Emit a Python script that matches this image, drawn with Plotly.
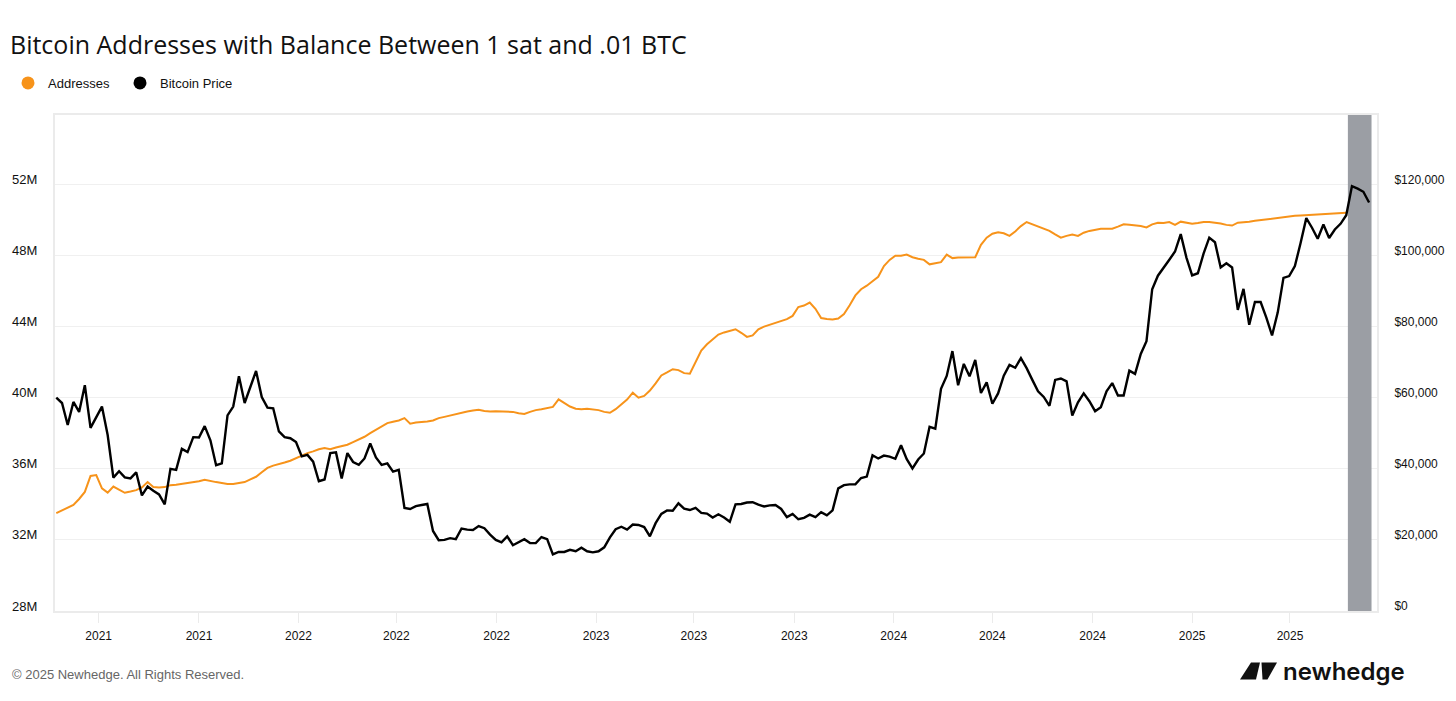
import pandas as pd
import plotly.graph_objects as go

# weekly samples (Wednesdays)
start_date = "2021-03-10"

# Bitcoin price, thousands of USD
price_k = [
    60.0, 58.5, 52.3, 58.8, 56.0, 63.5, 51.5, 54.5, 57.5, 49.5,
    37.5, 39.3, 37.6, 37.3, 39.0, 32.5, 35.0, 33.8, 32.8, 30.0,
    40.0, 39.7, 45.6, 44.7, 48.9, 48.8, 52.0, 48.0, 41.0, 41.5,
    55.0, 57.5, 66.0, 58.5, 63.0, 67.5, 60.2, 57.2, 57.0, 50.5,
    48.9, 48.6, 47.5, 43.5, 43.9, 42.0, 36.5, 37.0, 44.4, 44.6,
    37.3, 44.4, 41.9, 41.1, 42.9, 47.1, 43.2, 41.1, 41.5, 39.2,
    39.7, 29.0, 28.7, 29.5, 29.8, 30.1, 22.5, 19.9, 20.0, 20.5,
    20.2, 23.2, 22.9, 22.8, 23.9, 23.3, 21.5, 20.0, 19.3, 21.0,
    18.5, 19.4, 20.2, 19.1, 19.1, 20.8, 20.2, 15.9, 16.6, 16.6,
    17.2, 16.8, 17.8, 16.8, 16.5, 16.8, 17.9, 20.7, 23.0, 23.7,
    22.9, 24.3, 24.2, 23.6, 21.0, 24.7, 27.3, 28.3, 28.2, 30.3,
    28.8, 28.4, 29.0, 27.6, 27.4, 26.3, 27.2, 26.3, 25.1, 30.0,
    30.1, 30.5, 30.6, 29.9, 29.4, 29.7, 29.8, 28.7, 26.4, 27.3,
    25.8, 26.2, 27.1, 26.4, 27.8, 26.9, 28.3, 34.5, 35.4, 35.6,
    35.6, 37.4, 37.8, 43.8, 42.9, 43.7, 43.4, 42.8, 46.6, 42.7,
    40.1, 42.6, 44.3, 51.8, 51.3, 62.5, 66.1, 73.1, 63.5, 69.5,
    66.0, 70.6, 61.3, 64.3, 58.3, 61.2, 66.2, 69.2, 68.4, 71.1,
    68.3, 65.0, 61.8, 60.2, 57.7, 65.0, 65.4, 64.6, 55.0, 58.7,
    61.2, 59.0, 56.2, 57.3, 61.8, 64.1, 60.6, 60.6, 67.6, 66.7,
    72.3, 75.9, 90.5, 94.3, 96.4, 98.8, 101.1, 106.0, 99.4, 94.4,
    95.0, 100.5, 105.0, 103.7, 96.6, 97.8, 96.6, 84.7, 90.6, 80.5,
    86.9, 86.9, 82.5, 77.5, 84.0, 93.7, 94.2, 97.0, 103.5, 110.5,
    107.8, 104.7, 108.7, 104.9, 107.3, 108.9, 111.3, 119.5, 118.8, 117.9,
    114.9,
]

# addresses with 1 sat - 0.01 BTC, millions
addresses_m = [
    33.50, 33.65, 33.80, 33.97, 34.30, 34.70, 35.60, 35.65, 34.90, 34.66,
    35.00, 34.80, 34.65, 34.72, 34.80, 34.95, 35.25, 34.98, 34.95, 34.97,
    35.08, 35.10, 35.15, 35.20, 35.23, 35.30, 35.38, 35.30, 35.25, 35.20,
    35.15, 35.15, 35.20, 35.25, 35.40, 35.55, 35.80, 36.05, 36.18, 36.25,
    36.35, 36.45, 36.60, 36.75, 36.88, 36.98, 37.10, 37.17, 37.10, 37.20,
    37.28, 37.35, 37.50, 37.65, 37.80, 38.00, 38.20, 38.38, 38.57, 38.65,
    38.72, 38.85, 38.54, 38.60, 38.62, 38.66, 38.72, 38.85, 38.92, 39.00,
    39.10, 39.15, 39.22, 39.28, 39.32, 39.25, 39.22, 39.24, 39.22, 39.23,
    39.20, 39.12, 39.08, 39.20, 39.30, 39.35, 39.40, 39.48, 39.90, 39.70,
    39.50, 39.38, 39.35, 39.38, 39.36, 39.30, 39.20, 39.15, 39.35, 39.60,
    39.89, 40.28, 40.00, 40.10, 40.40, 40.80, 41.25, 41.42, 41.60, 41.55,
    41.38, 41.35, 42.00, 42.65, 43.00, 43.28, 43.55, 43.67, 43.74, 43.85,
    43.65, 43.42, 43.50, 43.85, 44.00, 44.10, 44.20, 44.30, 44.42, 44.60,
    45.10, 45.18, 45.35, 45.00, 44.48, 44.42, 44.40, 44.45, 44.70, 45.20,
    45.75, 46.10, 46.30, 46.55, 46.80, 47.40, 47.75, 47.98, 47.98, 48.05,
    47.90, 47.81, 47.75, 47.50, 47.55, 47.62, 48.05, 47.85, 47.88, 47.90,
    47.90, 47.90, 48.60, 49.00, 49.22, 49.30, 49.25, 49.10, 49.35, 49.65,
    49.88, 49.75, 49.60, 49.50, 49.38, 49.18, 49.00, 49.10, 49.18, 49.10,
    49.28, 49.38, 49.45, 49.50, 49.50, 49.50, 49.62, 49.75, 49.72, 49.69,
    49.65, 49.58, 49.75, 49.84, 49.82, 49.88, 49.72, 49.90, 49.85, 49.78,
    49.82, 49.88, 49.88, 49.85, 49.80, 49.72, 49.68, 49.84, 49.86, 49.90,
    49.95, 49.99, 50.03, 50.07, 50.12, 50.18, 50.21, 50.23, 50.25, 50.27,
    50.29, 50.30, 50.32, 50.34, 50.35, 50.37, 50.40,
]

# x axis ticks every four months, labelled by year
tick_dates = ["2021-05-01", "2021-09-01", "2022-01-01", "2022-05-01", "2022-09-01",
              "2023-01-01", "2023-05-01", "2023-09-01", "2024-01-01", "2024-05-01",
              "2024-09-01", "2025-01-01", "2025-05-01"]
tick_years = [d[:4] for d in tick_dates]

left_ticks = [28, 32, 36, 40, 44, 48, 52]
left_labels = ["28M", "32M", "36M", "40M", "44M", "48M", "52M"]
right_ticks = [0, 20, 40, 60, 80, 100, 120]
right_labels = ["$0", "$20,000", "$40,000", "$60,000", "$80,000", "$100,000", "$120,000"]

# shaded recent period
shade_start = "2025-07-11"
shade_end = "2025-08-09"

left_range = [28, 55.9]
right_range = [0, 139.5]
x_range = ["2021-03-08 10:00", "2025-08-15 17:00"]

ORANGE = "#F7931A"
GRID = "#f0f0f0"
AXIS_LINE = "#ebebeb"

price_dates = pd.date_range(start=start_date, periods=len(price_k), freq="7D")
addr_dates = price_dates[:len(addresses_m)]

# the page body adds an 8px offset, so layout is set in (screen - 8) pixels
OFF = 8
W, H = 1456 - OFF, 701 - OFF
L, R, T, B = 55, 1377, 115, 611  # plot area on screen


def px_x(p):
    return (p - L) / (R - L)


def px_y(p):
    return (B - p) / (B - T)


fig = go.Figure()

# shaded band as a filled area under the lines
fig.add_trace(go.Scatter(x=[shade_start, shade_start, shade_end, shade_end],
                         y=[left_range[0], left_range[1], left_range[1], left_range[0]],
                         fill="toself", fillcolor="#9b9ea4", mode="lines",
                         line=dict(width=0, color="#9b9ea4"), hoverinfo="skip",
                         showlegend=False))

fig.add_trace(go.Scatter(x=addr_dates, y=addresses_m, mode="lines",
                         line=dict(color=ORANGE, width=2), name="Addresses",
                         showlegend=False))
fig.add_trace(go.Scatter(x=price_dates, y=price_k, mode="lines",
                         line=dict(color="#000000", width=2.4), name="Bitcoin Price",
                         yaxis="y2", showlegend=False))

# legend entries drawn as dots
fig.add_trace(go.Scatter(x=[None], y=[None], mode="markers", name="Addresses",
                         marker=dict(color=ORANGE, size=13, symbol="circle")))
fig.add_trace(go.Scatter(x=[None], y=[None], mode="markers", name="Bitcoin Price",
                         marker=dict(color="#000000", size=13, symbol="circle")))

tick_font = dict(family="Liberation Sans, Arial", size=12, color="#111111")

fig.update_layout(
    width=W, height=H,
    margin=dict(l=L - OFF, r=W - (R - OFF), t=T - OFF, b=H - (B - OFF),
                autoexpand=False),
    paper_bgcolor="white", plot_bgcolor="white",
    title=dict(text="Bitcoin Addresses with Balance Between 1 sat and .01 BTC",
               x=(10 - OFF) / W, xref="container", xanchor="left",
               y=1 - (45 - OFF) / H, yref="container", yanchor="middle",
               pad=dict(l=0, t=0, b=0, r=0),
               font=dict(family="Open Sans", size=25, color="#111111")),
    legend=dict(orientation="h", xref="container", yref="container",
                x=0, xanchor="left", y=1 - (83 - OFF) / H, yanchor="middle",
                entrywidth=67, entrywidthmode="pixels",
                font=dict(family="Liberation Sans, Arial", size=13, color="#111111"),
                bgcolor="rgba(0,0,0,0)"),
    xaxis=dict(type="date", range=x_range, automargin=False,
               tickvals=tick_dates, ticktext=tick_years,
               showgrid=False, ticks="outside", ticklen=10, tickcolor=AXIS_LINE,
               tickwidth=1, ticklabelstandoff=3,
               showline=True, linecolor=AXIS_LINE, linewidth=2, mirror=True,
               tickfont=tick_font, zeroline=False),
    yaxis=dict(range=left_range, tickvals=left_ticks, ticktext=left_labels,
               automargin=False,
               showgrid=True, gridcolor=GRID, gridwidth=1,
               showline=True, linecolor=AXIS_LINE, linewidth=2,
               ticks="", ticklabelstandoff=13, ticklabelshift=-5,
               tickfont=dict(family="Liberation Sans, Arial", size=13, color="#111111"),
               zeroline=False),
    yaxis2=dict(range=right_range, tickvals=right_ticks, ticktext=right_labels,
                automargin=False,
                overlaying="y", side="right", showgrid=False,
                showline=True, linecolor=AXIS_LINE, linewidth=2,
                ticks="", ticklabelstandoff=13, ticklabelshift=-5,
                tickfont=tick_font, zeroline=False),
)

# footer and logo
fig.add_annotation(text="\u00a9 2025 Newhedge. All Rights Reserved.",
                   xref="paper", yref="paper", x=px_x(10), y=px_y(674),
                   xanchor="left", yanchor="middle", showarrow=False,
                   font=dict(family="Liberation Sans, Arial", size=13, color="#666666"))
fig.add_annotation(text="newhedge",
                   xref="paper", yref="paper", x=px_x(1281), y=px_y(671),
                   xanchor="left", yanchor="middle", showarrow=False,
                   font=dict(family="Inter", size=24, color="#111111", weight=600))

logo_left = [(1240, 679.5), (1251, 662.5), (1260, 662.5), (1256, 679.5)]
logo_right = [(1261.5, 662.5), (1277, 662.5), (1267.5, 679.5), (1262.5, 679.5)]
for poly in (logo_left, logo_right):
    path = "M " + " L ".join(f"{px_x(a):.5f},{px_y(b):.5f}" for a, b in poly) + " Z"
    fig.add_shape(type="path", path=path, xref="paper", yref="paper",
                  fillcolor="#111111", line=dict(width=0))

fig.write_html("out.html")
